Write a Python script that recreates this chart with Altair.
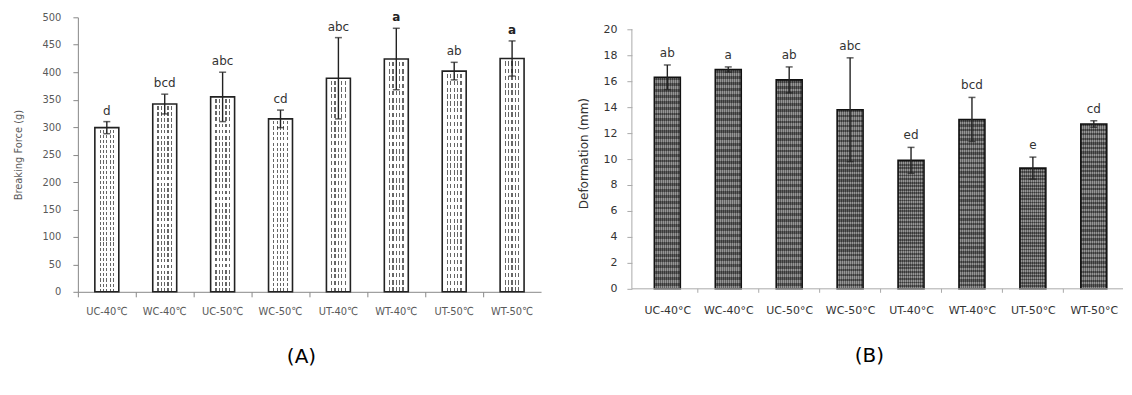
import json
import altair as alt
import pandas as pd

# ---------------- data ----------------
cats_a = ["UC-40℃", "WC-40℃", "UC-50℃", "WC-50℃", "UT-40℃", "WT-40℃", "UT-50℃", "WT-50℃"]
force = [299, 342, 355, 315, 389, 424, 402, 425]
force_err = [11, 18, 45, 16, 74, 56, 16, 32]
force_letters = ["d", "bcd", "abc", "cd", "abc", "a", "ab", "a"]

cats_b = ["UC-40°C", "WC-40°C", "UC-50°C", "WC-50°C", "UT-40°C", "WT-40°C", "UT-50°C", "WT-50°C"]
deform = [16.3, 16.9, 16.1, 13.8, 9.9, 13.05, 9.3, 12.7]
deform_err = [0.95, 0.2, 1.0, 4.0, 1.0, 1.7, 0.85, 0.25]
deform_letters = ["ab", "a", "ab", "abc", "ed", "bcd", "e", "cd"]

ticks_a = list(range(0, 501, 50))
ticks_b = list(range(0, 21, 2))

df_a = pd.DataFrame({"cat": cats_a, "val": force, "err": force_err, "lab": force_letters})
df_a["lo"] = df_a["val"] - df_a["err"]
df_a["hi"] = df_a["val"] + df_a["err"]
df_b = pd.DataFrame({"cat": cats_b, "val": deform, "err": deform_err, "lab": deform_letters})
df_b["lo"] = df_b["val"] - df_b["err"]
df_b["hi"] = df_b["val"] + df_b["err"]
df_b["pos"] = [i + 0.5 for i in range(len(cats_b))]          # category slot centre
bounds_b = pd.DataFrame({"b": list(range(1, len(cats_b)))})   # slot boundaries (axis ticks)

COND = "DejaVu Sans Condensed, Liberation Sans Narrow, DejaVu Sans"
SANS = "DejaVu Sans"


# ---------------- pattern helpers (style only) ----------------
def stripe_stops(n, frac, on, off):
    stops = []
    for i in range(n):
        a = i / n
        b = a + frac / n
        stops += [{"offset": a, "color": on}, {"offset": b, "color": on},
                  {"offset": b, "color": off}, {"offset": (i + 1) / n, "color": off}]
    return stops


def col_stops(cols, w, on, off):
    stops = [{"offset": 0, "color": off}]
    for c in cols:
        stops += [{"offset": c - w / 2, "color": off}, {"offset": c - w / 2, "color": on},
                  {"offset": c + w / 2, "color": on}, {"offset": c + w / 2, "color": off}]
    stops.append({"offset": 1, "color": off})
    return stops


def hgrad(stops):
    return {"gradient": "linear", "x1": 0, "y1": 0, "x2": 1, "y2": 0, "stops": stops}


def vgrad(stops):
    return {"gradient": "linear", "x1": 0, "y1": 0, "x2": 0, "y2": 1, "stops": stops}


# ---------------- panel A ----------------
xa = alt.X("cat:N", sort=cats_a, title=None,
           scale=alt.Scale(paddingInner=0, paddingOuter=0),
           axis=alt.Axis(labelAngle=0, labelFont=COND, labelFontSize=11, labelColor="#595959",
                         domainColor="#888888", tickColor="#888888", tickSize=5,
                         bandPosition=0, labelPadding=9))
ya = alt.Y("val:Q", scale=alt.Scale(domain=[0, 500], nice=False), title="Breaking Force (g)",
           axis=alt.Axis(values=ticks_a, tickCount=len(ticks_a), grid=False, labelFont=COND,
                         labelFontSize=11, labelColor="#595959", titleFont=COND, titleFontSize=11,
                         titleColor="#595959", titleFontWeight="normal",
                         domainColor="#888888", tickColor="#888888", tickSize=5,
                         labelPadding=12, titlePadding=19))

base_a = alt.Chart(df_a)
a_fill = base_a.mark_bar(size=24, color=hgrad(col_stops([0.22, 0.36, 0.5, 0.64, 0.78], 0.05, "#666666", "#ffffff"))).encode(x=xa, y=ya)
a_break = base_a.mark_bar(size=24, color=vgrad(stripe_stops(32, 0.38, "#ffffff", "rgba(255,255,255,0)"))).encode(x=xa, y="val:Q")
a_edge = base_a.mark_bar(size=24, fillOpacity=0, stroke="#222222", strokeWidth=1.6).encode(x=xa, y="val:Q")
a_rule = base_a.mark_rule(color="#222222", strokeWidth=1.4).encode(x=xa, y="lo:Q", y2="hi:Q")
a_tlo = base_a.mark_tick(orient="horizontal", size=7, thickness=1.5, color="#222222").encode(x=xa, y="lo:Q")
a_thi = base_a.mark_tick(orient="horizontal", size=7, thickness=1.5, color="#222222").encode(x=xa, y="hi:Q")
a_txt = base_a.transform_filter(alt.datum.lab != "a").mark_text(
    baseline="bottom", dy=-4, font=SANS, fontSize=12, color="#333333").encode(x=xa, y="hi:Q", text="lab:N")
a_txt_b = base_a.transform_filter(alt.datum.lab == "a").mark_text(
    baseline="bottom", dy=-4, font=SANS, fontSize=12, fontWeight="bold", color="#222222").encode(x=xa, y="hi:Q", text="lab:N")

panel_a = alt.layer(a_fill, a_break, a_edge, a_rule, a_tlo, a_thi, a_txt, a_txt_b).properties(
    width=464, height=275,
    title=alt.TitleParams("(A)", orient="bottom", fontSize=20, font=SANS, fontWeight="normal",
                          color="#000000", offset=30, frame="group", anchor="middle", dx=-8))

# ---------------- panel B ----------------
WB = 492
STEP_B = 62.3
HB = 272
label_expr = json.dumps(cats_b, ensure_ascii=False) + "[floor(datum.value)]"
xb = alt.X("pos:Q", title=None,
           scale=alt.Scale(domain=[0, WB / STEP_B], nice=False, zero=False),
           axis=alt.Axis(values=df_b["pos"].tolist(), tickCount=len(cats_b), labelExpr=label_expr,
                         labelAngle=0, labelFont=SANS, labelFontSize=11, labelColor="#333333",
                         domain=False, ticks=False, grid=False, labelFlush=False,
                         labelOverlap=False, labelPadding=16))
yb = alt.Y("val:Q", scale=alt.Scale(domain=[0, HB / 13], nice=False), title="Deformation (mm)",
           axis=alt.Axis(values=ticks_b, tickCount=len(ticks_b), grid=False, domain=False,
                         labelFont=SANS, labelFontSize=11,
                         labelColor="#333333", titleFont=SANS, titleFontSize=12,
                         titleColor="#333333", titleFontWeight="normal",
                         tickColor="#aaaaaa", tickSize=5, labelPadding=10, titlePadding=12))

base_b = alt.Chart(df_b)
b_fill = base_b.mark_bar(size=26, color=hgrad(stripe_stops(13, 0.5, "#4c4c4c", "#888888"))).encode(x=xb, y=yb)
b_check = base_b.mark_bar(size=26, color=vgrad(stripe_stops(36, 0.5, "rgba(20,20,20,0.35)", "rgba(255,255,255,0.12)"))).encode(x="pos:Q", y="val:Q")
b_edge = base_b.mark_bar(size=26, fillOpacity=0, stroke="#111111", strokeWidth=1.6).encode(x="pos:Q", y="val:Q")
b_rule = base_b.mark_rule(color="#222222", strokeWidth=1.4).encode(x="pos:Q", y="lo:Q", y2="hi:Q")
b_tlo = base_b.mark_tick(orient="horizontal", size=7, thickness=1.5, color="#222222").encode(x="pos:Q", y="lo:Q")
b_thi = base_b.mark_tick(orient="horizontal", size=7, thickness=1.5, color="#222222").encode(x="pos:Q", y="hi:Q")
b_txt = base_b.mark_text(baseline="bottom", dy=-5, font=SANS, fontSize=12, color="#333333").encode(x="pos:Q", y="hi:Q", text="lab:N")
axis_df = pd.DataFrame({"z": [0]})
b_yaxis = alt.Chart(axis_df).mark_rule(color="#aaaaaa", strokeWidth=1).encode(
    x=alt.value(0), y=alt.datum(0), y2=alt.datum(20))
b_xaxis = alt.Chart(axis_df).mark_rule(color="#aaaaaa", strokeWidth=1).encode(
    x=alt.value(0), x2=alt.value(WB), y=alt.value(HB))
b_xticks = alt.Chart(bounds_b).mark_rule(color="#aaaaaa", strokeWidth=1).encode(
    x="b:Q", y=alt.value(HB), y2=alt.value(HB + 4))

panel_b = alt.layer(b_fill, b_check, b_edge, b_rule, b_tlo, b_thi, b_txt, b_yaxis, b_xaxis, b_xticks).properties(
    width=WB, height=HB,
    title=alt.TitleParams("(B)", orient="bottom", fontSize=20, font=SANS, fontWeight="normal",
                          color="#000000", offset=30, frame="group", anchor="middle", dx=-8))

chart = alt.hconcat(panel_a, panel_b, spacing=37).properties(
    padding={"left": 4, "top": 3, "right": 0, "bottom": 0}
).configure_view(stroke=None)

chart.save("out.html", embed_options={"renderer": "svg", "actions": False})
